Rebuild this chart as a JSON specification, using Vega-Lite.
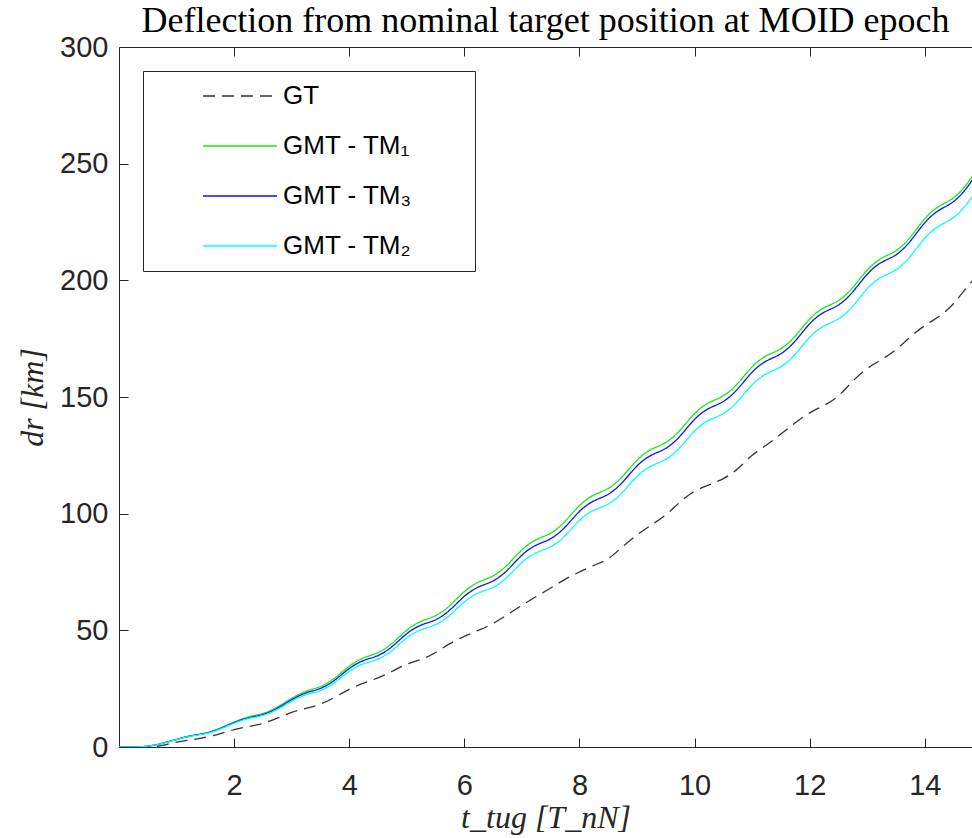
{
  "$schema": "https://vega.github.io/schema/vega-lite/v6.json",
  "width": 853,
  "height": 700,
  "autosize": {"type": "none"},
  "padding": {"left": 119, "top": 47, "right": 0, "bottom": 91},
  "background": "white",
  "config": {
    "view": {"stroke": "#262626", "strokeWidth": 1},
    "axis": {
      "domain": false, "offset": -9,
      "tickColor": "#262626", "tickWidth": 1, "tickSize": 9,
      "labelFont": "Liberation Sans", "labelFontSize": 29, "labelColor": "#262626",
      "labelFlush": false, "grid": false,
      "titleFont": "Liberation Serif", "titleFontStyle": "italic", "titleFontWeight": "normal",
      "titleFontSize": 32, "titleColor": "#262626"
    }
  },
  "title": {
    "text": "Deflection from nominal target position at MOID epoch",
    "font": "Liberation Serif", "fontSize": 36, "fontWeight": "normal",
    "color": "#000000", "anchor": "middle", "offset": -7
  },
  "data": {"values": [
    {"t":0,"dr":0,"s":"GT"},{"t":0.25,"dr":0,"s":"GT"},{"t":0.5,"dr":0,"s":"GT"},{"t":0.75,"dr":0.4,"s":"GT"},
    {"t":1,"dr":2.3,"s":"GT"},{"t":1.25,"dr":3.0,"s":"GT"},{"t":1.5,"dr":4.0,"s":"GT"},{"t":1.75,"dr":5.6,"s":"GT"},
    {"t":2,"dr":7.6,"s":"GT"},{"t":2.25,"dr":8.8,"s":"GT"},{"t":2.5,"dr":9.9,"s":"GT"},{"t":2.75,"dr":12.3,"s":"GT"},
    {"t":3,"dr":15,"s":"GT"},{"t":3.25,"dr":16.6,"s":"GT"},{"t":3.5,"dr":18.1,"s":"GT"},{"t":3.75,"dr":21.3,"s":"GT"},
    {"t":4,"dr":24.9,"s":"GT"},{"t":4.25,"dr":27.4,"s":"GT"},{"t":4.5,"dr":29.5,"s":"GT"},{"t":4.75,"dr":32.4,"s":"GT"},
    {"t":5,"dr":35.8,"s":"GT"},{"t":5.25,"dr":37.3,"s":"GT"},{"t":5.5,"dr":40.3,"s":"GT"},{"t":5.75,"dr":44.5,"s":"GT"},
    {"t":6,"dr":47.5,"s":"GT"},{"t":6.25,"dr":50.0,"s":"GT"},{"t":6.5,"dr":52.8,"s":"GT"},{"t":6.75,"dr":56.7,"s":"GT"},
    {"t":7,"dr":60.8,"s":"GT"},{"t":7.25,"dr":64.5,"s":"GT"},{"t":7.5,"dr":68.1,"s":"GT"},{"t":7.75,"dr":72.0,"s":"GT"},
    {"t":8,"dr":75,"s":"GT"},{"t":8.25,"dr":78.0,"s":"GT"},{"t":8.5,"dr":80.1,"s":"GT"},{"t":8.75,"dr":86.0,"s":"GT"},
    {"t":9,"dr":91,"s":"GT"},{"t":9.25,"dr":95.2,"s":"GT"},{"t":9.5,"dr":99.2,"s":"GT"},{"t":9.75,"dr":105.2,"s":"GT"},
    {"t":10,"dr":110,"s":"GT"},{"t":10.25,"dr":112.3,"s":"GT"},{"t":10.5,"dr":114.8,"s":"GT"},{"t":10.75,"dr":118.8,"s":"GT"},
    {"t":11,"dr":125.5,"s":"GT"},{"t":11.25,"dr":129.2,"s":"GT"},{"t":11.5,"dr":134.2,"s":"GT"},{"t":11.75,"dr":139.0,"s":"GT"},
    {"t":12,"dr":143.5,"s":"GT"},{"t":12.25,"dr":146.2,"s":"GT"},{"t":12.5,"dr":150.0,"s":"GT"},{"t":12.75,"dr":157.1,"s":"GT"},
    {"t":13,"dr":162.5,"s":"GT"},{"t":13.25,"dr":166.0,"s":"GT"},{"t":13.5,"dr":170.0,"s":"GT"},{"t":13.75,"dr":176.0,"s":"GT"},
    {"t":14,"dr":180.8,"s":"GT"},{"t":14.25,"dr":184.3,"s":"GT"},{"t":14.5,"dr":189.5,"s":"GT"},{"t":14.75,"dr":198,"s":"GT"},
    {"t":15,"dr":204,"s":"GT"},

    {"t":0,"dr":0,"s":"GMT - TM₁"},{"t":0.25,"dr":0,"s":"GMT - TM₁"},{"t":0.5,"dr":0.2,"s":"GMT - TM₁"},{"t":0.75,"dr":1.5,"s":"GMT - TM₁"},
    {"t":1,"dr":3.3,"s":"GMT - TM₁"},{"t":1.25,"dr":5.0,"s":"GMT - TM₁"},{"t":1.5,"dr":5.8,"s":"GMT - TM₁"},{"t":1.75,"dr":7.9,"s":"GMT - TM₁"},
    {"t":2,"dr":10.8,"s":"GMT - TM₁"},{"t":2.25,"dr":13.1,"s":"GMT - TM₁"},{"t":2.5,"dr":14.1,"s":"GMT - TM₁"},{"t":2.75,"dr":16.9,"s":"GMT - TM₁"},
    {"t":3,"dr":21,"s":"GMT - TM₁"},{"t":3.25,"dr":24.2,"s":"GMT - TM₁"},{"t":3.5,"dr":25.5,"s":"GMT - TM₁"},{"t":3.75,"dr":29.3,"s":"GMT - TM₁"},
    {"t":4,"dr":35,"s":"GMT - TM₁"},{"t":4.25,"dr":38.5,"s":"GMT - TM₁"},{"t":4.5,"dr":40.0,"s":"GMT - TM₁"},{"t":4.75,"dr":44.2,"s":"GMT - TM₁"},
    {"t":5,"dr":50.5,"s":"GMT - TM₁"},{"t":5.25,"dr":54.2,"s":"GMT - TM₁"},{"t":5.5,"dr":55.8,"s":"GMT - TM₁"},{"t":5.75,"dr":60.3,"s":"GMT - TM₁"},
    {"t":6,"dr":67,"s":"GMT - TM₁"},{"t":6.25,"dr":71.1,"s":"GMT - TM₁"},{"t":6.5,"dr":72.8,"s":"GMT - TM₁"},{"t":6.75,"dr":77.7,"s":"GMT - TM₁"},
    {"t":7,"dr":85,"s":"GMT - TM₁"},{"t":7.25,"dr":89.3,"s":"GMT - TM₁"},{"t":7.5,"dr":91.1,"s":"GMT - TM₁"},{"t":7.75,"dr":96.3,"s":"GMT - TM₁"},
    {"t":8,"dr":104,"s":"GMT - TM₁"},{"t":8.25,"dr":108.4,"s":"GMT - TM₁"},{"t":8.5,"dr":110.2,"s":"GMT - TM₁"},{"t":8.75,"dr":115.6,"s":"GMT - TM₁"},
    {"t":9,"dr":123.5,"s":"GMT - TM₁"},{"t":9.25,"dr":128.0,"s":"GMT - TM₁"},{"t":9.5,"dr":129.9,"s":"GMT - TM₁"},{"t":9.75,"dr":135.4,"s":"GMT - TM₁"},
    {"t":10,"dr":143.5,"s":"GMT - TM₁"},{"t":10.25,"dr":148.0,"s":"GMT - TM₁"},{"t":10.5,"dr":149.9,"s":"GMT - TM₁"},{"t":10.75,"dr":155.4,"s":"GMT - TM₁"},
    {"t":11,"dr":163.5,"s":"GMT - TM₁"},{"t":11.25,"dr":168.1,"s":"GMT - TM₁"},{"t":11.5,"dr":170.1,"s":"GMT - TM₁"},{"t":11.75,"dr":175.7,"s":"GMT - TM₁"},
    {"t":12,"dr":184,"s":"GMT - TM₁"},{"t":12.25,"dr":188.7,"s":"GMT - TM₁"},{"t":12.5,"dr":190.7,"s":"GMT - TM₁"},{"t":12.75,"dr":196.5,"s":"GMT - TM₁"},
    {"t":13,"dr":205,"s":"GMT - TM₁"},{"t":13.25,"dr":210.0,"s":"GMT - TM₁"},{"t":13.5,"dr":212.0,"s":"GMT - TM₁"},{"t":13.75,"dr":218.1,"s":"GMT - TM₁"},
    {"t":14,"dr":227,"s":"GMT - TM₁"},{"t":14.25,"dr":232.2,"s":"GMT - TM₁"},{"t":14.5,"dr":234.6,"s":"GMT - TM₁"},{"t":14.75,"dr":241.5,"s":"GMT - TM₁"},
    {"t":15,"dr":251,"s":"GMT - TM₁"},

    {"t":0,"dr":0,"s":"GMT - TM₃"},{"t":0.25,"dr":0,"s":"GMT - TM₃"},{"t":0.5,"dr":0.2,"s":"GMT - TM₃"},{"t":0.75,"dr":1.5,"s":"GMT - TM₃"},
    {"t":1,"dr":3.25,"s":"GMT - TM₃"},{"t":1.25,"dr":4.9,"s":"GMT - TM₃"},{"t":1.5,"dr":5.65,"s":"GMT - TM₃"},{"t":1.75,"dr":7.7,"s":"GMT - TM₃"},
    {"t":2,"dr":10.5,"s":"GMT - TM₃"},{"t":2.25,"dr":12.7,"s":"GMT - TM₃"},{"t":2.5,"dr":13.65,"s":"GMT - TM₃"},{"t":2.75,"dr":16.4,"s":"GMT - TM₃"},
    {"t":3,"dr":20.4,"s":"GMT - TM₃"},{"t":3.25,"dr":23.5,"s":"GMT - TM₃"},{"t":3.5,"dr":24.7,"s":"GMT - TM₃"},{"t":3.75,"dr":28.4,"s":"GMT - TM₃"},
    {"t":4,"dr":34.0,"s":"GMT - TM₃"},{"t":4.25,"dr":37.4,"s":"GMT - TM₃"},{"t":4.5,"dr":38.75,"s":"GMT - TM₃"},{"t":4.75,"dr":42.8,"s":"GMT - TM₃"},
    {"t":5,"dr":49.0,"s":"GMT - TM₃"},{"t":5.25,"dr":52.6,"s":"GMT - TM₃"},{"t":5.5,"dr":54.05,"s":"GMT - TM₃"},{"t":5.75,"dr":58.4,"s":"GMT - TM₃"},
    {"t":6,"dr":65.0,"s":"GMT - TM₃"},{"t":6.25,"dr":69.0,"s":"GMT - TM₃"},{"t":6.5,"dr":70.65,"s":"GMT - TM₃"},{"t":6.75,"dr":75.5,"s":"GMT - TM₃"},
    {"t":7,"dr":82.7,"s":"GMT - TM₃"},{"t":7.25,"dr":86.95,"s":"GMT - TM₃"},{"t":7.5,"dr":88.7,"s":"GMT - TM₃"},{"t":7.75,"dr":93.85,"s":"GMT - TM₃"},
    {"t":8,"dr":101.5,"s":"GMT - TM₃"},{"t":8.25,"dr":105.9,"s":"GMT - TM₃"},{"t":8.5,"dr":107.7,"s":"GMT - TM₃"},{"t":8.75,"dr":113.1,"s":"GMT - TM₃"},
    {"t":9,"dr":121.0,"s":"GMT - TM₃"},{"t":9.25,"dr":125.5,"s":"GMT - TM₃"},{"t":9.5,"dr":127.4,"s":"GMT - TM₃"},{"t":9.75,"dr":132.9,"s":"GMT - TM₃"},
    {"t":10,"dr":141.0,"s":"GMT - TM₃"},{"t":10.25,"dr":145.55,"s":"GMT - TM₃"},{"t":10.5,"dr":147.5,"s":"GMT - TM₃"},{"t":10.75,"dr":153.05,"s":"GMT - TM₃"},
    {"t":11,"dr":161.2,"s":"GMT - TM₃"},{"t":11.25,"dr":165.9,"s":"GMT - TM₃"},{"t":11.5,"dr":167.95,"s":"GMT - TM₃"},{"t":11.75,"dr":173.6,"s":"GMT - TM₃"},
    {"t":12,"dr":182.0,"s":"GMT - TM₃"},{"t":12.25,"dr":186.75,"s":"GMT - TM₃"},{"t":12.5,"dr":188.8,"s":"GMT - TM₃"},{"t":12.75,"dr":194.65,"s":"GMT - TM₃"},
    {"t":13,"dr":203.2,"s":"GMT - TM₃"},{"t":13.25,"dr":208.2,"s":"GMT - TM₃"},{"t":13.5,"dr":210.25,"s":"GMT - TM₃"},{"t":13.75,"dr":216.4,"s":"GMT - TM₃"},
    {"t":14,"dr":225.3,"s":"GMT - TM₃"},{"t":14.25,"dr":230.55,"s":"GMT - TM₃"},{"t":14.5,"dr":233.0,"s":"GMT - TM₃"},{"t":14.75,"dr":239.95,"s":"GMT - TM₃"},
    {"t":15,"dr":249.5,"s":"GMT - TM₃"},

    {"t":0,"dr":0,"s":"GMT - TM₂"},{"t":0.25,"dr":0,"s":"GMT - TM₂"},{"t":0.5,"dr":0.2,"s":"GMT - TM₂"},{"t":0.75,"dr":1.45,"s":"GMT - TM₂"},
    {"t":1,"dr":3.2,"s":"GMT - TM₂"},{"t":1.25,"dr":4.8,"s":"GMT - TM₂"},{"t":1.5,"dr":5.5,"s":"GMT - TM₂"},{"t":1.75,"dr":7.5,"s":"GMT - TM₂"},
    {"t":2,"dr":10.3,"s":"GMT - TM₂"},{"t":2.25,"dr":12.4,"s":"GMT - TM₂"},{"t":2.5,"dr":13.25,"s":"GMT - TM₂"},{"t":2.75,"dr":15.9,"s":"GMT - TM₂"},
    {"t":3,"dr":19.8,"s":"GMT - TM₂"},{"t":3.25,"dr":22.75,"s":"GMT - TM₂"},{"t":3.5,"dr":23.8,"s":"GMT - TM₂"},{"t":3.75,"dr":27.35,"s":"GMT - TM₂"},
    {"t":4,"dr":32.8,"s":"GMT - TM₂"},{"t":4.25,"dr":36.0,"s":"GMT - TM₂"},{"t":4.5,"dr":37.25,"s":"GMT - TM₂"},{"t":4.75,"dr":41.2,"s":"GMT - TM₂"},
    {"t":5,"dr":47.2,"s":"GMT - TM₂"},{"t":5.25,"dr":50.6,"s":"GMT - TM₂"},{"t":5.5,"dr":51.95,"s":"GMT - TM₂"},{"t":5.75,"dr":56.2,"s":"GMT - TM₂"},
    {"t":6,"dr":62.6,"s":"GMT - TM₂"},{"t":6.25,"dr":66.45,"s":"GMT - TM₂"},{"t":6.5,"dr":67.9,"s":"GMT - TM₂"},{"t":6.75,"dr":72.55,"s":"GMT - TM₂"},
    {"t":7,"dr":79.6,"s":"GMT - TM₂"},{"t":7.25,"dr":83.7,"s":"GMT - TM₂"},{"t":7.5,"dr":85.25,"s":"GMT - TM₂"},{"t":7.75,"dr":90.2,"s":"GMT - TM₂"},
    {"t":8,"dr":97.7,"s":"GMT - TM₂"},{"t":8.25,"dr":101.9,"s":"GMT - TM₂"},{"t":8.5,"dr":103.55,"s":"GMT - TM₂"},{"t":8.75,"dr":108.8,"s":"GMT - TM₂"},
    {"t":9,"dr":116.5,"s":"GMT - TM₂"},{"t":9.25,"dr":120.9,"s":"GMT - TM₂"},{"t":9.5,"dr":122.65,"s":"GMT - TM₂"},{"t":9.75,"dr":128.0,"s":"GMT - TM₂"},
    {"t":10,"dr":136.0,"s":"GMT - TM₂"},{"t":10.25,"dr":140.45,"s":"GMT - TM₂"},{"t":10.5,"dr":142.3,"s":"GMT - TM₂"},{"t":10.75,"dr":147.75,"s":"GMT - TM₂"},
    {"t":11,"dr":155.8,"s":"GMT - TM₂"},{"t":11.25,"dr":160.4,"s":"GMT - TM₂"},{"t":11.5,"dr":162.35,"s":"GMT - TM₂"},{"t":11.75,"dr":167.9,"s":"GMT - TM₂"},
    {"t":12,"dr":176.2,"s":"GMT - TM₂"},{"t":12.25,"dr":180.85,"s":"GMT - TM₂"},{"t":12.5,"dr":182.8,"s":"GMT - TM₂"},{"t":12.75,"dr":188.55,"s":"GMT - TM₂"},
    {"t":13,"dr":197.0,"s":"GMT - TM₂"},{"t":13.25,"dr":201.9,"s":"GMT - TM₂"},{"t":13.5,"dr":203.85,"s":"GMT - TM₂"},{"t":13.75,"dr":209.9,"s":"GMT - TM₂"},
    {"t":14,"dr":218.7,"s":"GMT - TM₂"},{"t":14.25,"dr":223.8,"s":"GMT - TM₂"},{"t":14.5,"dr":226.15,"s":"GMT - TM₂"},{"t":14.75,"dr":233.0,"s":"GMT - TM₂"},
    {"t":15,"dr":242.4,"s":"GMT - TM₂"}
  ]},
  "layer": [
    {
      "mark": {"type": "line", "interpolate": "basis", "clip": true, "strokeWidth": 1.3},
      "encoding": {
        "x": {"field": "t", "type": "quantitative",
          "scale": {"domain": [0, 14.82], "nice": false, "zero": false},
          "axis": {"orient": "bottom", "values": [2,4,6,8,10,12,14], "labelPadding": 24,
                   "title": "t_tug [T_nN]", "titlePadding": 2}},
        "y": {"field": "dr", "type": "quantitative",
          "scale": {"domain": [0, 300], "nice": false},
          "axis": {"orient": "left", "values": [0,50,100,150,200,250,300], "labelPadding": 11,
                   "title": "dr [km]", "titlePadding": 10}},
        "color": {"field": "s", "type": "nominal",
          "scale": {"domain": ["GT", "GMT - TM₁", "GMT - TM₃", "GMT - TM₂"],
                    "range": ["#333333", "#11ee11", "#1010ff", "#00ffff"]},
          "legend": {
            "title": ".", "titleOrient": "right", "titleColor": "white", "titleFontSize": 2, "titlePadding": 50,
            "orient": "none", "legendX": 24, "legendY": 24,
            "symbolType": "stroke", "symbolSize": 5476, "symbolStrokeWidth": 1.3,
            "labelFont": "Liberation Sans", "labelFontSize": 26, "labelColor": "#000000",
            "labelOffset": 5, "symbolOffset": 47, "padding": 12, "rowPadding": 24, "clipHeight": 26,
            "strokeColor": "#262626", "fillColor": "white"
          }},
        "strokeDash": {"field": "s", "type": "nominal",
          "scale": {"domain": ["GT", "GMT - TM₁", "GMT - TM₃", "GMT - TM₂"],
                    "range": [[12, 7], [1, 0], [1, 0], [1, 0]]},
          "legend": {
            "title": ".", "titleOrient": "right", "titleColor": "white", "titleFontSize": 2, "titlePadding": 50,
            "orient": "none", "legendX": 24, "legendY": 24,
            "symbolType": "stroke", "symbolSize": 5476, "symbolStrokeWidth": 1.3,
            "labelFont": "Liberation Sans", "labelFontSize": 26, "labelColor": "#000000",
            "labelOffset": 5, "symbolOffset": 47, "padding": 12, "rowPadding": 24, "clipHeight": 26,
            "strokeColor": "#262626", "fillColor": "white"
          }}
      }
    },
    {
      "mark": {"type": "line", "opacity": 0, "clip": true},
      "encoding": {
        "x": {"field": "t", "type": "quantitative",
          "axis": {"orient": "top", "values": [2,4,6,8,10,12,14], "labels": false, "title": null}},
        "y": {"field": "dr", "type": "quantitative"},
        "detail": {"field": "s"}
      }
    }
  ],
  "resolve": {"axis": {"x": "independent"}}
}
